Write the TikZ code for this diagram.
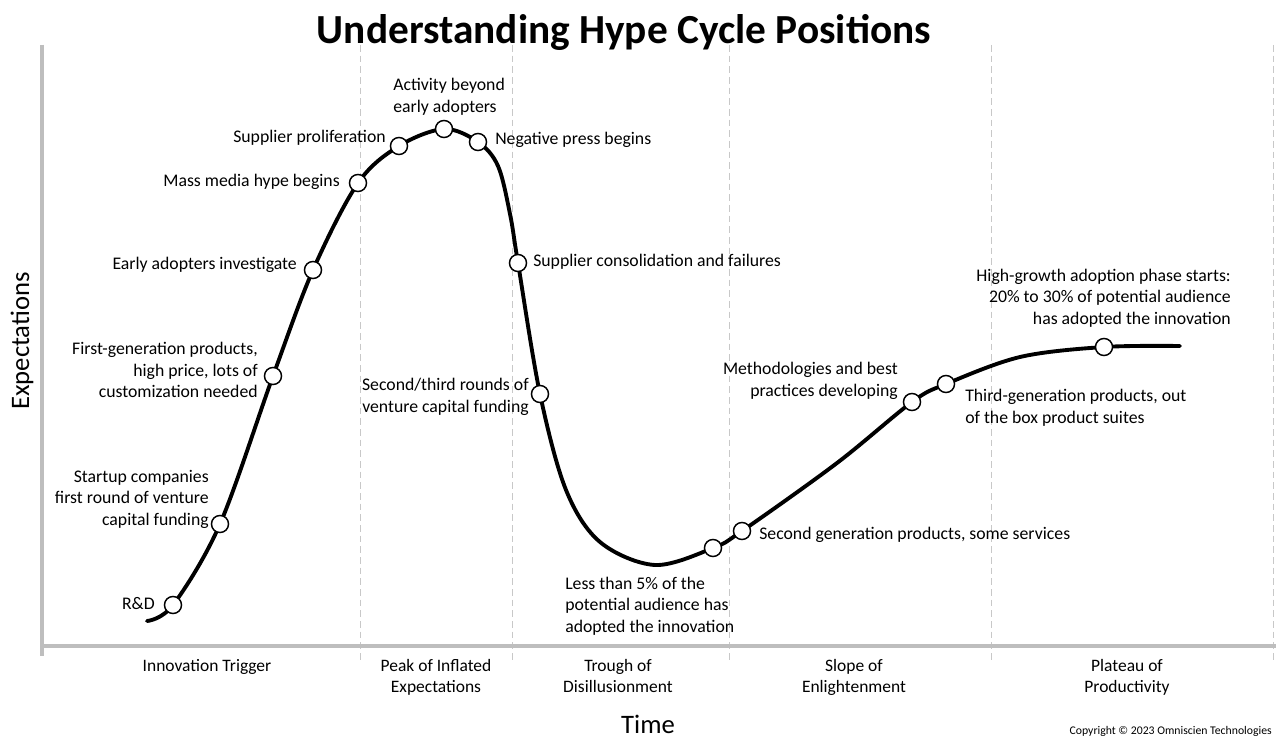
\documentclass[tikz,border=0pt]{standalone}
\usepackage{fontspec}
\setmainfont{Carlito}
\begin{document}
\begin{tikzpicture}[x=0.75pt,y=-0.75pt,
  lbl/.style={font=\fontsize{13.3}{16.1}\selectfont, inner sep=0pt},
  cat/.style={font=\fontsize{13.1}{16.1}\selectfont, inner sep=0pt, align=center, anchor=north},
  dot/.style={circle, draw=black, fill=white, line width=1.1pt, minimum size=12.8pt, inner sep=0pt},
  axis/.style={draw={rgb,255:red,190;green,190;blue,190}, line width=2.4pt},
  phase/.style={draw={rgb,255:red,200;green,200;blue,200}, line width=0.7pt, dash pattern=on 5pt off 3pt},
  hype/.style={line width=2.9pt, line cap=round}]
\useasboundingbox (0,0) rectangle (1280,741);
\fill[white] (0,0) rectangle (1280,741);
% phase separators
\foreach \xx/\nm in {360/s1,512/s2,729/s3,991/s4,1273/s5}{
  \coordinate (\nm t) at (\xx,45);
  \coordinate (\nm b) at (\xx,660);
  \draw[phase] (\nm t) -- (\nm b);
}
% axes
\coordinate (ytop) at (42,45);
\coordinate (ybot) at (42,656);
\coordinate (xl) at (42,646);
\coordinate (xr) at (1276,646);
\draw[axis] (ytop) -- (ybot);
\draw[axis] (xl) -- (xr);
% title
\node[font=\fontsize{31}{34}\selectfont\bfseries, inner sep=0pt] (title) at (624,32) {Understanding Hype Cycle Positions};
% curve
\draw[hype] plot[smooth, tension=0.55] coordinates {
 (147,621) (173,605) (220,524) (273,376) (313,270) (358,183) (399,146) (444,129) (478,142)
 (498,166) (510,214) (518,263) (540,394) (566,490) (600,542) (655,565) (713,548) (742,531)
 (837,463) (912,402) (946,384) (1020,357) (1104,347) (1180,346)};
% dots
\node[dot] (rd) at (173,605) {};
\node[dot] (st) at (220,524) {};
\node[dot] (fg) at (273,376) {};
\node[dot] (ea) at (313,270) {};
\node[dot] (mm) at (358,183) {};
\node[dot] (sp) at (399,146) {};
\node[dot] (ab) at (444,129) {};
\node[dot] (np) at (478,142) {};
\node[dot] (sc) at (518,263) {};
\node[dot] (vc) at (540,394) {};
\node[dot] (lt) at (713,548) {};
\node[dot] (sg) at (742,531) {};
\node[dot] (mb) at (912,402) {};
\node[dot] (tg) at (946,384) {};
\node[dot] (hg) at (1104,347) {};
% labels
\node[lbl, anchor=east] (lrd) at (155,604) {R\&D};
\node[lbl, anchor=east, align=right] (lst) at (209,499) {Startup companies\\first round of venture\\capital funding};
\node[lbl, anchor=east, align=right] (lfg) at (258,370) {First-generation products,\\high price, lots of\\customization needed};
\node[lbl, anchor=east] (lea) at (297,265) {Early adopters investigate};
\node[lbl, anchor=east] (lmm) at (340,182) {Mass media hype begins};
\node[lbl, anchor=east] (lsp) at (386,138) {Supplier proliferation};
\node[lbl, anchor=west, align=left] (lab) at (393,97) {Activity beyond\\early adopters};
\node[lbl, anchor=west] (lnp) at (495,140) {Negative press begins};
\node[lbl, anchor=west] (lsc) at (533,262) {Supplier consolidation and failures};
\node[lbl, anchor=east, align=right] (lvc) at (529,397) {Second/third rounds of\\venture capital funding};
\node[lbl, anchor=west, align=left] (llt) at (565,606) {Less than 5\% of the\\potential audience has\\adopted the innovation};
\node[lbl, anchor=west] (lsg) at (759,535) {Second generation products, some services};
\node[lbl, anchor=east, align=right] (lmb) at (898,381) {Methodologies and best\\practices developing};
\node[lbl, anchor=west, align=left] (ltg) at (965,408) {Third-generation products, out\\of the box product suites};
\node[lbl, anchor=east, align=right] (lhg) at (1231,298) {High-growth adoption phase starts:\\20\% to 30\% of potential audience\\has adopted the innovation};
% categories
\node[cat] (c1) at (207,656) {\strut Innovation Trigger};
\node[cat] (c2) at (436,656) {\strut Peak of Inflated\\Expectations};
\node[cat] (c3) at (618,656) {\strut Trough of\\Disillusionment};
\node[cat] (c4) at (854,656) {\strut Slope of\\Enlightenment};
\node[cat] (c5) at (1127,656) {\strut Plateau of\\Productivity};
% axis titles
\node[font=\fontsize{20}{24}\selectfont, inner sep=0pt] (time) at (648,724) {Time};
\node[font=\fontsize{20}{24}\selectfont, inner sep=0pt, rotate=90] (exp) at (22,341) {Expectations};
\node[font=\fontsize{8.8}{10}\selectfont, inner sep=0pt, anchor=east] (copy) at (1272,731) {Copyright © 2023 Omniscien Technologies};
\end{tikzpicture}
\end{document}
